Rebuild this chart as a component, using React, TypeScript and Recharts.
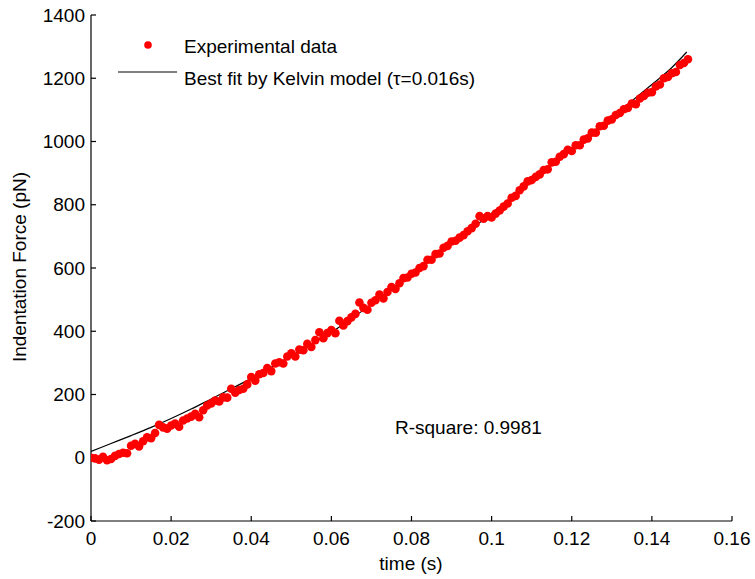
import React from 'react';
import {
  ComposedChart,
  Scatter,
  Line,
  XAxis,
  YAxis,
  Legend,
  Customized,
} from 'recharts';

// Experimental data: time (s) and indentation force (pN)
const expTime = [
  0.000, 0.001, 0.002, 0.003, 0.004, 0.005, 0.006, 0.007, 0.008, 0.009,
  0.010, 0.011, 0.012, 0.013, 0.014, 0.015, 0.016, 0.017, 0.018, 0.019,
  0.020, 0.021, 0.022, 0.023, 0.024, 0.025, 0.026, 0.027, 0.028, 0.029,
  0.030, 0.031, 0.032, 0.033, 0.034, 0.035, 0.036, 0.037, 0.038, 0.039,
  0.040, 0.041, 0.042, 0.043, 0.044, 0.045, 0.046, 0.047, 0.048, 0.049,
  0.050, 0.051, 0.052, 0.053, 0.054, 0.055, 0.056, 0.057, 0.058, 0.059,
  0.060, 0.061, 0.062, 0.063, 0.064, 0.065, 0.066, 0.067, 0.068, 0.069,
  0.070, 0.071, 0.072, 0.073, 0.074, 0.075, 0.076, 0.077, 0.078, 0.079,
  0.080, 0.081, 0.082, 0.083, 0.084, 0.085, 0.086, 0.087, 0.088, 0.089,
  0.090, 0.091, 0.092, 0.093, 0.094, 0.095, 0.096, 0.097, 0.098, 0.099,
  0.100, 0.101, 0.102, 0.103, 0.104, 0.105, 0.106, 0.107, 0.108, 0.109,
  0.110, 0.111, 0.112, 0.113, 0.114, 0.115, 0.116, 0.117, 0.118, 0.119,
  0.120, 0.121, 0.122, 0.123, 0.124, 0.125, 0.126, 0.127, 0.128, 0.129,
  0.130, 0.131, 0.132, 0.133, 0.134, 0.135, 0.136, 0.137, 0.138, 0.139,
  0.140, 0.141, 0.142, 0.143, 0.144, 0.145, 0.146, 0.147, 0.148, 0.149,
];

const expForce = [
  0, -2, -6, 3, -8, -4, 6, 12, 16, 14,
  38, 44, 36, 52, 65, 62, 78, 104, 96, 92,
  102, 108, 98, 118, 124, 130, 139, 128, 150, 165,
  172, 181, 178, 191, 190, 218, 206, 214, 218, 232,
  255, 244, 264, 268, 284, 274, 298, 302, 298, 320,
  330, 320, 342, 340, 360, 350, 372, 397, 378, 394,
  404, 394, 433, 418, 432, 444, 455, 491, 474, 468,
  490, 498, 516, 504, 524, 540, 534, 552, 568, 570,
  582, 586, 600, 606, 626, 626, 644, 646, 664, 670,
  684, 686, 696, 704, 716, 726, 740, 764, 756, 764,
  760, 772, 782, 794, 804, 822, 828, 846, 858, 874,
  878, 888, 896, 910, 912, 934, 936, 952, 960, 974,
  970, 988, 988, 1006, 1010, 1028, 1028, 1048, 1050, 1066,
  1070, 1084, 1090, 1102, 1106, 1120, 1118, 1136, 1144, 1154,
  1156, 1174, 1180, 1200, 1204, 1216, 1220, 1242, 1248, 1260,
];

// Best fit by Kelvin model
const fitTime = [
  0, 0.005, 0.01, 0.015, 0.02, 0.025, 0.03, 0.035, 0.04, 0.045,
  0.05, 0.055, 0.06, 0.065, 0.07, 0.075, 0.08, 0.085, 0.09, 0.095,
  0.1, 0.105, 0.11, 0.115, 0.12, 0.125, 0.13, 0.135, 0.14, 0.145, 0.1487,
];
const fitForce = [
  20, 45, 70, 96, 124, 154, 186, 218, 251, 286,
  322, 359, 397, 440, 485, 533, 581, 628, 676, 724,
  773, 824, 876, 926, 976, 1026, 1077, 1128, 1180, 1234, 1283,
];

const xTicks = [0, 0.02, 0.04, 0.06, 0.08, 0.1, 0.12, 0.14, 0.16];
const yTicks = [-200, 0, 200, 400, 600, 800, 1000, 1200, 1400];

const seriesNames = ['Experimental data', 'Best fit by Kelvin model (\u03c4=0.016s)'];
const rSquareText = 'R-square: 0.9981';
const xLabel = 'time (s)';
const yLabel = 'Indentation Force (pN)';

const expData = expTime.map((t, i) => ({ t, f: expForce[i] }));
const fitData = fitTime.map((t, i) => ({ t, f: fitForce[i] }));

const FONT = '"Liberation Sans", Arial, Helvetica, sans-serif';
const FS = 19;

const fmtX = (v: number) => String(Number(v.toFixed(2)));

const renderLegend = () => (
  <svg width={600} height={100} style={{ display: 'block' }}>
    <circle cx={148} cy={45} r={3.8} fill="#ff0000" />
    <text x={184} y={53} fontFamily={FONT} fontSize={FS} fill="#000">
      {seriesNames[0]}
    </text>
    <line x1={118} y1={72} x2={177} y2={72} stroke="#000" strokeWidth={1.2} />
    <text x={184} y={85} fontFamily={FONT} fontSize={FS} fill="#000">
      {seriesNames[1]}
    </text>
  </svg>
);

const Annotations = () => (
  <g fontFamily={FONT} fontSize={FS} fill="#000">
    <text x={395} y={434}>{rSquareText}</text>
    <text x={411} y={570} textAnchor="middle">{xLabel}</text>
    <text transform="translate(26,267) rotate(-90)" textAnchor="middle">{yLabel}</text>
  </g>
);

const RedDot = (props: any) => {
  const { cx, cy } = props;
  if (cx == null || cy == null) return null;
  return <circle cx={cx} cy={cy} r={4.3} fill="#ff0000" />;
};

export default function App() {
  return (
    <div style={{ position: 'absolute', left: 0, top: 0, background: '#fff' }}>
      <ComposedChart
        width={755}
        height={579}
        margin={{ top: 15, right: 23, bottom: 0, left: 0 }}
        style={{ fontFamily: FONT }}
      >
        <XAxis
          type="number"
          dataKey="t"
          domain={[0, 0.16]}
          ticks={xTicks}
          tickFormatter={fmtX}
          allowDataOverflow
          height={58}
          tickSize={-5}
          tickMargin={16}
          stroke="#000"
          axisLine={{ stroke: '#000', strokeWidth: 1.2 }}
          tickLine={{ stroke: '#000', strokeWidth: 1.2 }}
          tick={{ fill: '#000', fontSize: FS, fontFamily: FONT }}
          interval={0}
        />
        <YAxis
          type="number"
          dataKey="f"
          domain={[-200, 1400]}
          ticks={yTicks}
          allowDataOverflow
          width={91}
          tickSize={-5}
          tickMargin={11}
          stroke="#000"
          axisLine={{ stroke: '#000', strokeWidth: 1.2 }}
          tickLine={{ stroke: '#000', strokeWidth: 1.2 }}
          tick={{ fill: '#000', fontSize: FS, fontFamily: FONT }}
          interval={0}
        />
        <Scatter
          name={seriesNames[0]}
          data={expData}
          dataKey="f"
          fill="#ff0000"
          shape={RedDot}
          isAnimationActive={false}
        />
        <Line
          name={seriesNames[1]}
          data={fitData}
          dataKey="f"
          type="monotone"
          stroke="#000"
          strokeWidth={1.2}
          dot={false}
          activeDot={false}
          isAnimationActive={false}
        />
        <Legend
          layout="horizontal"
          verticalAlign="middle"
          align="center"
          content={renderLegend}
          wrapperStyle={{ left: 0, top: 0, width: 600, height: 100 }}
        />
        <Customized component={Annotations} />
      </ComposedChart>
    </div>
  );
}
